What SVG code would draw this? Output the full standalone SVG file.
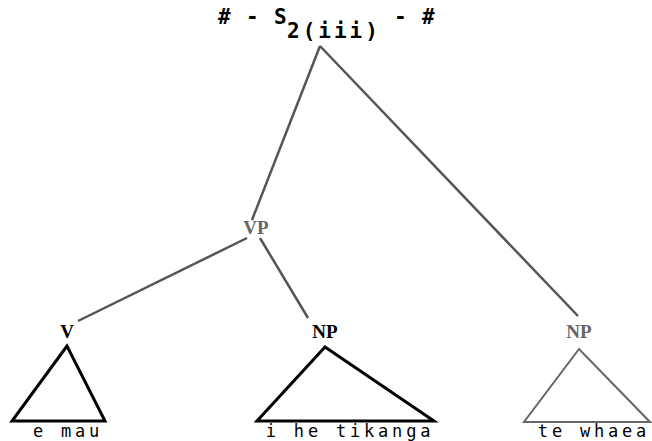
<svg xmlns="http://www.w3.org/2000/svg" width="652" height="441" viewBox="0 0 652 441">
<style>
.edge{stroke:#555;stroke-width:2.5;fill:none}
.tri{stroke:#000;stroke-width:3;fill:none;stroke-linejoin:miter}
.trig{stroke:#666;stroke-width:2;fill:none}
.lab{font-family:"Liberation Serif",serif;font-size:19px;text-anchor:middle;font-weight:bold}
.word{font-family:"DejaVu Sans Mono","Liberation Mono",monospace;font-size:17px;text-anchor:middle;letter-spacing:3.8px}
.top{font-family:"DejaVu Sans Mono","Liberation Mono",monospace;font-size:21px;font-weight:bold}
</style>
<rect width="652" height="441" fill="#fff"/>
<g id="connectors">
<line class="edge" x1="320" y1="46" x2="252" y2="220"/>
<line class="edge" x1="320" y1="46" x2="578" y2="316"/>
<line class="edge" x1="247" y1="238" x2="78" y2="321"/>
<line class="edge" x1="260" y1="238" x2="308" y2="318"/>
</g>
<g id="S">
<text class="top" x="218" y="24">#</text>
<text class="top" x="246" y="24">-</text>
<text class="top" x="274" y="24">S</text>
<text class="top" x="287" y="38" font-size="19" letter-spacing="3">2(iii)</text>
<text class="top" x="394" y="24">-</text>
<text class="top" x="422" y="24">#</text>
</g>
<g id="VP">
<text class="lab" x="256" y="234" fill="#666" font-weight="normal">VP</text>
</g>
<g id="V">
<text class="lab" x="67" y="338">V</text>
<polygon class="tri" points="67,346 12,421 105,421"/>
<text class="word" x="68" y="437">e mau</text>
</g>
<g id="NP1">
<text class="lab" x="325" y="338">NP</text>
<polygon class="tri" points="325,347 257,421 434,421"/>
<text class="word" x="350" y="437">i he tikanga</text>
</g>
<g id="NP2">
<text class="lab" x="579" y="338" fill="#666" font-weight="normal">NP</text>
<polygon class="trig" points="579,349 524,422 650,422"/>
<text class="word" x="594" y="437">te whaea</text>
</g>
</svg>
